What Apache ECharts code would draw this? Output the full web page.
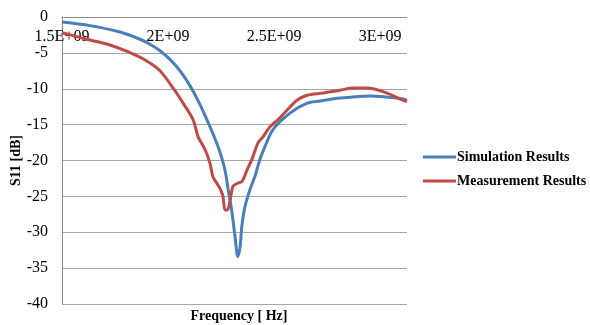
<!DOCTYPE html>
<html>
<head>
<meta charset="utf-8">
<script src="https://cdn.jsdelivr.net/npm/echarts@6/dist/echarts.min.js"></script>
<style>
body{margin:0;background:#fff;}
#chart{width:590px;height:325px;}
</style>
</head>
<body>
<div id="chart"></div>
<script>
// S11 curves: frequency (Hz) and dB
var simFreq = [1.5e9, 1.632e9, 1.774e9, 1.868e9, 1.915e9, 1.962e9, 2.009e9, 2.057e9, 2.104e9, 2.151e9, 2.198e9, 2.23e9, 2.25e9, 2.269e9, 2.284e9, 2.3e9, 2.316e9, 2.329e9, 2.34e9, 2.348e9, 2.363e9, 2.387e9, 2.41e9, 2.434e9, 2.458e9, 2.495e9, 2.575e9, 2.656e9, 2.717e9, 2.811e9, 2.953e9, 3.08e9, 3.127e9];
var simDb = [-0.7, -1.2, -2.1, -3.1, -3.8, -4.7, -5.9, -7.5, -9.6, -12.2, -15.3, -17.6, -19.3, -21.4, -24.1, -26.9, -30.6, -33.4, -32.0, -29.2, -26.4, -24.0, -22.2, -19.8, -18.0, -15.7, -13.4, -12.0, -11.7, -11.3, -11.0, -11.3, -11.6];
var measFreq = [1.5e9, 1.632e9, 1.726e9, 1.807e9, 1.892e9, 1.962e9, 2.033e9, 2.071e9, 2.118e9, 2.142e9, 2.175e9, 2.198e9, 2.212e9, 2.231e9, 2.245e9, 2.259e9, 2.269e9, 2.28e9, 2.292e9, 2.306e9, 2.326e9, 2.349e9, 2.373e9, 2.396e9, 2.425e9, 2.448e9, 2.481e9, 2.519e9, 2.561e9, 2.608e9, 2.656e9, 2.731e9, 2.811e9, 2.873e9, 2.943e9, 3.033e9, 3.085e9, 3.127e9];
var measDb = [-2.2, -3.2, -3.9, -4.8, -6.0, -7.5, -10.3, -12.0, -14.3, -16.7, -18.5, -20.4, -22.3, -23.2, -23.9, -25.0, -26.9, -26.9, -25.7, -23.6, -23.2, -22.9, -21.3, -19.8, -17.5, -16.7, -15.3, -14.3, -13.0, -11.6, -10.9, -10.6, -10.2, -9.9, -9.9, -10.6, -11.3, -11.8];
var seriesNames = ['Simulation Results', 'Measurement Results'];

function pairs(xs, ys) {
  var out = [];
  for (var i = 0; i < xs.length; i++) out.push([xs[i], ys[i]]);
  return out;
}

var font = '"Liberation Serif", "Times New Roman", serif';
var myChart = echarts.init(document.getElementById('chart'));
var option = {
  backgroundColor: '#fff',
  animation: false,
  title: {
    text: 'Frequency [ Hz]',
    left: 234,
    top: 304,
    textAlign: 'center',
    textStyle: { fontFamily: font, fontSize: 14, fontWeight: 'bold', color: '#000' }
  },
  legend: {
    orient: 'vertical',
    left: 418,
    top: 145,
    itemWidth: 33,
    itemHeight: 3,
    itemGap: 10,
    icon: 'rect',
    data: seriesNames,
    textStyle: { fontFamily: font, fontSize: 14, fontWeight: 'bold', color: '#000', padding: [0, 0, 0, -4] }
  },
  grid: { left: 62, right: 183, top: 17, bottom: 21, outerBoundsMode: 'none' },
  xAxis: {
    type: 'value',
    position: 'top',
    min: 1.5e9,
    max: 3.127e9,
    interval: 5e8,
    axisLine: { show: true, lineStyle: { color: '#8c8c8c', width: 1 } },
    axisTick: { show: false },
    splitLine: { show: false },
    axisLabel: {
      inside: true,
      margin: 12,
      showMaxLabel: false,
      fontFamily: font,
      fontSize: 16,
      color: '#000',
      formatter: function (v) {
        if (Math.abs(v % 5e8) > 1) return '';
        return (v / 1e9) + 'E+09';
      }
    }
  },
  yAxis: {
    type: 'value',
    min: -40,
    max: 0,
    interval: 5,
    name: 'S11 [dB]',
    nameLocation: 'middle',
    nameGap: 39,
    nameMoveOverlap: false,
    nameTextStyle: { fontFamily: font, fontSize: 14, fontWeight: 'bold', color: '#000' },
    axisLine: { show: true, lineStyle: { color: '#8c8c8c', width: 1 } },
    axisTick: { show: false },
    splitLine: { show: true, lineStyle: { color: '#a6a6a6', width: 1 } },
    axisLabel: { margin: 14, fontFamily: font, fontSize: 16, color: '#000' }
  },
  series: [{
    name: seriesNames[0],
    type: 'line',
    smooth: 0.3,
    symbol: 'none',
    data: pairs(simFreq, simDb),
    itemStyle: { color: '#4a7ebb' },
    lineStyle: { color: '#4a7ebb', width: 3 }
  }, {
    name: seriesNames[1],
    type: 'line',
    smooth: 0.3,
    symbol: 'none',
    data: pairs(measFreq, measDb),
    itemStyle: { color: '#be4b48' },
    lineStyle: { color: '#be4b48', width: 3 }
  }]
};
myChart.setOption(option);
</script>
</body>
</html>
